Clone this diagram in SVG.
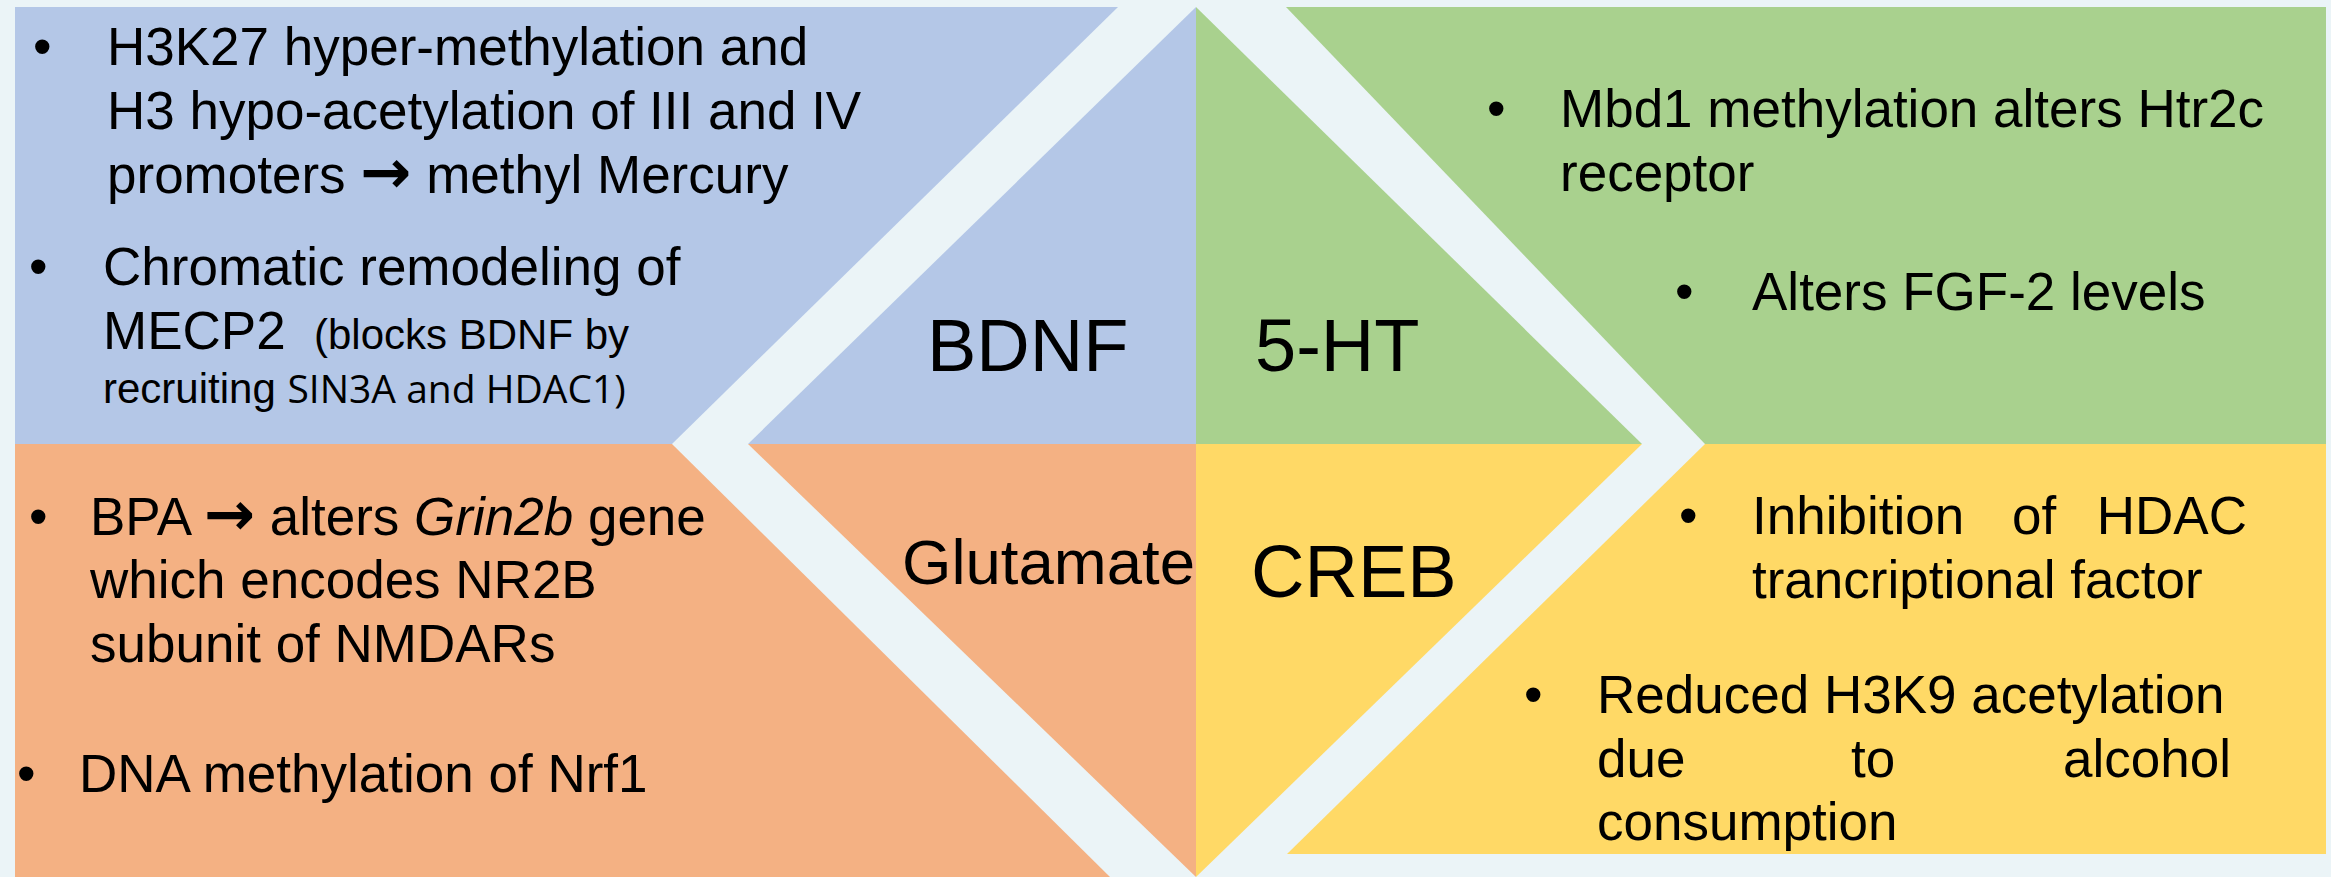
<svg xmlns="http://www.w3.org/2000/svg" width="2331" height="877" viewBox="0 0 2331 877">
<style>
.bg{fill:#EBF4F7}
.blue{fill:#B4C7E7}
.green{fill:#A9D18E}
.orange{fill:#F4B183}
.yellow{fill:#FFD966}
text{font-family:"Liberation Sans",Arial,sans-serif;fill:#000}
.t{font-size:53px}
.s{font-size:42px}
.h{font-size:74px}
.g{font-size:63.5px}
.arr{font-family:"DejaVu Sans",sans-serif;font-weight:bold;font-size:61px}
</style>
<rect class="bg" x="0" y="0" width="2331" height="877"/>
<g id="connectors"></g>
<g id="bdnf-notes">
<polygon class="blue" points="15,7 1118,7 672,444 15,444"/>
<text class="t" x="33" y="65">•</text>
<text class="t" x="107" y="65">H3K27 hyper-methylation and</text>
<text class="t" x="107" y="129">H3 hypo-acetylation of III and IV</text>
<text class="t" x="107" y="193">promoters <tspan class="arr">→</tspan> methyl Mercury</text>
<text class="t" x="29" y="285">•</text>
<text class="t" x="103" y="285">Chromatic remodeling of</text>
<text class="t" x="103" y="349">MECP2</text>
<text class="s" x="314" y="349">(blocks BDNF by</text>
<text class="s" x="103" y="403" font-size="39">recruiting <tspan font-family="'Open Sans',sans-serif" font-size="39">SIN3A and HDAC1)</tspan></text>
</g>
<g id="bdnf">
<polygon class="blue" points="1196,7 748,444 1196,444"/>
<text class="h" x="927" y="371">BDNF</text>
</g>
<g id="serotonin">
<polygon class="green" points="1196,7 1642,444 1196,444"/>
<text class="h" x="1255" y="371">5-HT</text>
</g>
<g id="serotonin-notes">
<polygon class="green" points="1286,7 2326,7 2326,444 1705,444"/>
<text class="t" x="1487" y="127">•</text>
<text class="t" x="1560" y="127">Mbd1 methylation alters Htr2c</text>
<text class="t" x="1560" y="191">receptor</text>
<text class="t" x="1675" y="310">•</text>
<text class="t" x="1752" y="310">Alters FGF-2 levels</text>
</g>
<g id="glutamate-notes">
<polygon class="orange" points="15,444 672,444 1110,877 15,877"/>
<text class="t" x="29" y="535">•</text>
<text class="t" x="90" y="535">BPA <tspan class="arr">→</tspan> alters <tspan font-style="italic">Grin2b</tspan> gene</text>
<text class="t" x="90" y="598">which encodes NR2B</text>
<text class="t" x="90" y="662">subunit of NMDARs</text>
<text class="t" x="17" y="792">•</text>
<text class="t" x="79" y="792">DNA methylation of Nrf1</text>
</g>
<g id="glutamate">
<polygon class="orange" points="748,444 1196,444 1196,877"/>
<text class="g" x="902" y="584">Glutamate</text>
</g>
<g id="creb">
<polygon class="yellow" points="1196,444 1642,444 1196,877"/>
<text class="h" x="1251" y="597">CREB</text>
</g>
<g id="creb-notes">
<polygon class="yellow" points="1705,444 2326,444 2326,854 1287,854"/>
<text class="t" x="1679" y="534">•</text>
<text class="t" x="1752" y="534">Inhibition</text>
<text class="t" x="2012" y="534">of</text>
<text class="t" x="2247" y="534" text-anchor="end">HDAC</text>
<text class="t" x="1752" y="598">trancriptional factor</text>
<text class="t" x="1524" y="713">•</text>
<text class="t" x="1597" y="713">Reduced H3K9 acetylation</text>
<text class="t" x="1597" y="777">due</text>
<text class="t" x="1851" y="777">to</text>
<text class="t" x="2231" y="777" text-anchor="end">alcohol</text>
<text class="t" x="1597" y="840">consumption</text>
</g>
</svg>
